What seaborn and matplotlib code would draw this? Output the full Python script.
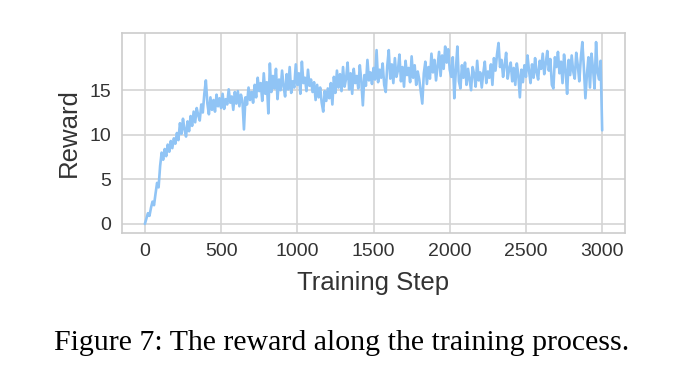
import numpy as np
import pandas as pd
import matplotlib
matplotlib.use("Agg")
import matplotlib.pyplot as plt
import seaborn as sns

steps = list(range(0, 3001, 10))
reward = [
    0.0, 0.6, 1.2, 0.9, 1.8, 2.5, 2.1, 3.4, 4.6, 4.1,
    6.5, 8.0, 7.2, 8.4, 7.6, 8.9, 8.1, 9.3, 8.5, 9.6,
    9.0, 10.2, 9.4, 11.3, 10.1, 11.8, 10.6, 9.8, 11.5, 10.4,
    12.1, 11.0, 12.6, 11.4, 13.0, 12.2, 11.6, 13.4, 12.5, 14.6,
    16.1, 13.5, 12.3, 14.2, 12.8, 13.9, 12.6, 14.5, 13.2, 14.1,
    13.0, 14.6, 12.9, 14.0, 13.4, 15.1, 13.6, 14.3, 12.8, 14.8,
    13.5, 14.9, 13.2, 14.5, 13.8, 10.6, 14.2, 13.4, 15.3, 13.9,
    14.8, 13.6, 15.6, 14.2, 16.4, 14.9, 15.8, 13.8, 16.9, 14.6,
    15.9, 12.4, 18.0, 14.8, 16.6, 15.2, 17.4, 14.0, 16.2, 15.0,
    17.2, 15.4, 14.3, 16.8, 15.1, 17.6, 14.7, 16.0, 15.3, 17.9,
    15.6, 16.9, 14.6, 18.2, 15.8, 16.4, 14.9, 17.3, 15.5, 16.2,
    14.8, 15.9, 13.9, 15.6, 14.2, 15.3, 13.6, 12.6, 14.9, 13.8,
    15.2, 14.1, 15.8, 13.4, 16.5, 14.7, 17.2, 15.3, 16.8, 14.9,
    17.6, 15.4, 16.3, 18.1, 15.1, 16.9, 14.6, 17.4, 15.8, 16.6,
    15.2, 17.8, 16.0, 13.3, 16.7, 15.5, 18.4, 16.1, 17.0, 15.7,
    17.5, 16.2, 19.5, 15.9, 17.3, 16.4, 18.0, 15.6, 14.8, 17.7,
    19.5, 16.3, 17.9, 15.8, 18.6, 16.5, 17.2, 19.0, 16.0, 17.6,
    15.4, 18.3, 16.7, 17.5, 15.9, 18.8, 16.4, 17.8, 15.6, 17.1,
    16.2, 14.8, 13.5, 16.9, 18.2, 15.7, 17.6, 16.3, 19.1, 17.0,
    18.4, 16.1, 17.7, 19.3, 16.6, 18.9, 17.4, 19.9, 18.1, 19.6,
    17.3, 16.5, 18.7, 14.1, 17.2, 19.9, 16.0, 15.2, 17.8, 16.4,
    18.1, 15.6, 17.4, 16.2, 15.0, 17.6, 16.8, 15.4, 18.3, 16.1,
    17.0, 15.3, 16.9, 18.2, 15.8, 17.1, 16.4, 17.9, 15.6, 18.6,
    17.2, 19.0, 20.3, 17.6, 18.4, 16.5, 17.8, 19.2, 16.3, 17.4,
    18.1, 16.0, 17.5, 15.6, 18.0, 16.7, 14.2, 17.3, 15.9, 17.8,
    16.5, 18.9, 17.2, 15.8, 17.9, 16.4, 18.6, 17.0, 16.2, 18.3,
    17.4, 19.1, 16.8, 18.0, 19.4, 17.2, 18.5, 15.6, 15.2, 18.7,
    17.6, 19.3, 16.9, 18.2, 15.8, 19.0, 17.3, 14.6, 18.4, 16.7,
    18.9, 17.1, 16.3, 19.2, 17.8, 16.0, 18.6, 20.4, 17.5, 14.1,
    16.8, 18.7, 15.3, 19.1, 17.4, 15.2, 20.4, 17.0, 16.2, 18.3,
    10.5,
]
xticks = [0, 500, 1000, 1500, 2000, 2500, 3000]
yticks = [0, 5, 10, 15]

df = pd.DataFrame({"Training Step": steps, "Reward": reward})

sns.set_theme(style="whitegrid")
plt.rcParams["font.family"] = ["Liberation Sans", "DejaVu Sans"]

fig = plt.figure(figsize=(6.87, 3.86), dpi=100)
ax = fig.add_axes([0.1776, 0.3964, 0.7322, 0.5181])
sns.lineplot(data=df, x="Training Step", y="Reward", ax=ax,
             color="#90c4f5", linewidth=1.9)
ax.set_xticks(xticks)
ax.set_yticks(yticks)
ax.tick_params(axis="x", labelsize=14, colors="#333333", pad=1)
ax.tick_params(axis="y", labelsize=14, colors="#333333", pad=2)
ax.set_xlabel("Training Step", fontsize=18.5, color="#333333", labelpad=8)
ax.set_ylabel("Reward", fontsize=18.5, color="#333333", labelpad=6)
for s in ax.spines.values():
    s.set_color("#cccccc")
    s.set_linewidth(1.2)
ax.grid(color="#d4d4d4", linewidth=1.2)

fig.text(0.497, 0.112, "Figure 7: The reward along the training process.",
         ha="center", va="center", fontsize=21.5,
         family=["Liberation Serif", "DejaVu Serif"], color="black")

fig.savefig("out.png", dpi=100)
